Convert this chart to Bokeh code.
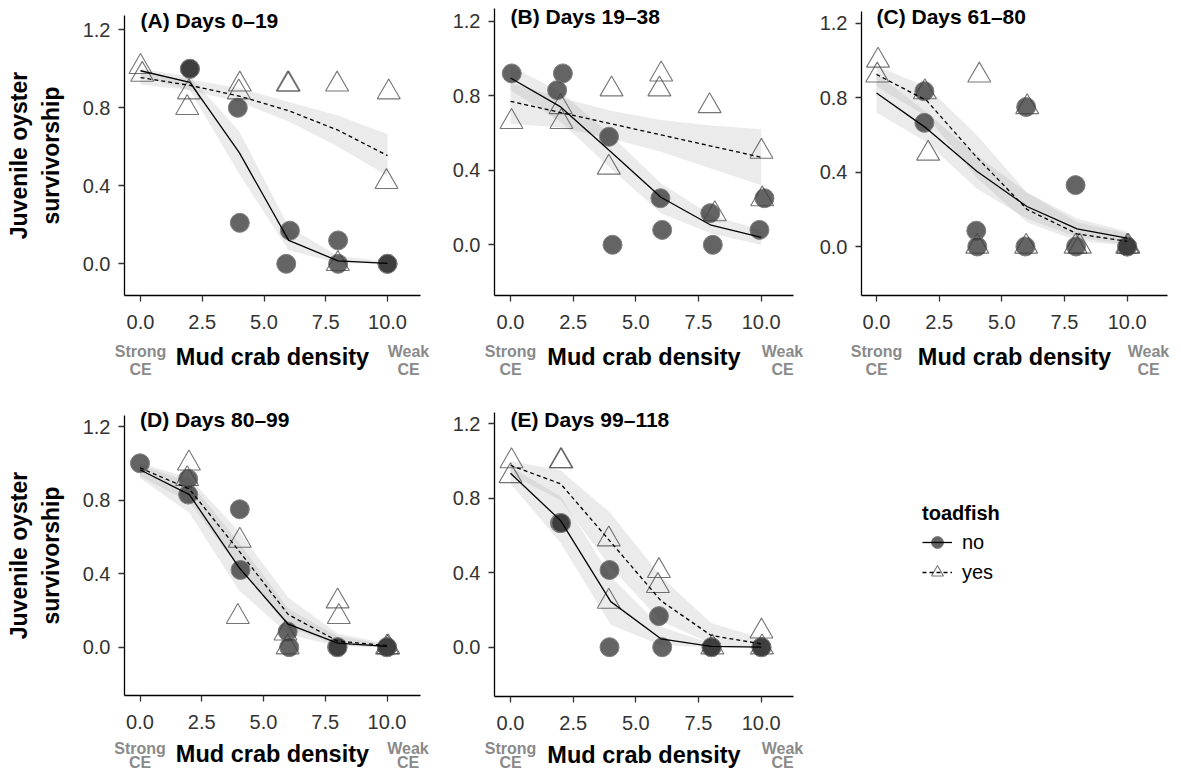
from bokeh.plotting import figure
from bokeh.layouts import column, row
from bokeh.models import (FixedTicker, NumeralTickFormatter, Label, Legend,
                          LegendItem, ColumnDataSource, Range1d)
from bokeh.core.properties import value
from bokeh.embed import file_html
from bokeh.resources import INLINE

# ---------------- data ----------------
DENSITY = [0, 2, 4, 6, 8, 10]
X_TICKS = [0.0, 2.5, 5.0, 7.5, 10.0]
Y_TICKS = [0.0, 0.4, 0.8, 1.2]
TITLES = ["(A) Days 0–19", "(B) Days 19–38", "(C) Days 61–80",
          "(D) Days 80–99", "(E) Days 99–118"]
X_LABEL = "Mud crab density"
Y_LABEL = "Juvenile oyster\nsurvivorship"
LEFT_NOTE = ["Strong", "CE"]
RIGHT_NOTE = ["Weak", "CE"]
LEGEND_TITLE = "toadfish"
GROUPS = ["no", "yes"]

# Panel A
A_no_x = [2.0, 2.0, 3.94, 4.02, 6.05, 5.9, 8.0, 8.0, 10.0, 10.0]
A_no_y = [1.0, 1.0, 0.80, 0.21, 0.17, 0.0, 0.12, 0.0, 0.0, 0.0]
A_yes_x = [0.0, 0.07, 1.96, 1.89, 4.02, 3.98, 5.96, 6.0, 7.96, 7.99, 10.05, 9.96]
A_yes_y = [1.01, 0.97, 0.88, 0.80, 0.92, 0.88, 0.92, 0.92, 0.92, 0.0, 0.88, 0.42]
A_no_fit = [0.99, 0.93, 0.57, 0.12, 0.015, 0.002]
A_no_lo = [0.96, 0.89, 0.46, 0.07, 0.003, 0.0]
A_no_hi = [1.0, 0.96, 0.68, 0.19, 0.04, 0.01]
A_yes_fit = [0.955, 0.915, 0.86, 0.785, 0.685, 0.555]
A_yes_lo = [0.92, 0.89, 0.83, 0.73, 0.60, 0.45]
A_yes_hi = [0.98, 0.945, 0.90, 0.83, 0.76, 0.665]

# Panel B
B_no_x = [0.05, 2.09, 1.86, 3.93, 4.07, 5.98, 6.05, 7.97, 8.07, 9.93, 10.13]
B_no_y = [0.92, 0.92, 0.83, 0.58, 0.0, 0.25, 0.08, 0.17, 0.0, 0.08, 0.25]
B_yes_x = [0.04, 2.0, 2.03, 4.03, 3.92, 6.01, 5.94, 7.94, 8.15, 10.01, 10.04]
B_yes_y = [0.66, 0.74, 0.66, 0.835, 0.415, 0.915, 0.835, 0.745, 0.165, 0.5, 0.245]
B_no_fit = [0.895, 0.74, 0.5, 0.255, 0.105, 0.04]
B_no_lo = [0.83, 0.66, 0.41, 0.17, 0.06, 0.0]
B_no_hi = [0.96, 0.82, 0.59, 0.33, 0.16, 0.08]
B_yes_fit = [0.77, 0.71, 0.65, 0.59, 0.53, 0.47]
B_yes_lo = [0.65, 0.63, 0.57, 0.5, 0.41, 0.32]
B_yes_hi = [0.87, 0.79, 0.72, 0.67, 0.64, 0.62]

# Panel C
C_no_x = [1.91, 1.91, 3.98, 4.02, 5.97, 5.94, 7.94, 7.96, 10.0, 10.0]
C_no_y = [0.835, 0.665, 0.085, 0.0, 0.75, 0.0, 0.33, 0.0, 0.0, 0.0]
C_yes_x = [0.06, 0.03, 1.93, 2.06, 4.1, 4.02, 6.01, 5.97, 7.94, 8.11, 10.0, 10.05]
C_yes_y = [1.0, 0.92, 0.83, 0.5, 0.92, 0.0, 0.75, 0.0, 0.0, 0.0, 0.0, 0.0]
C_no_fit = [0.825, 0.635, 0.405, 0.215, 0.095, 0.045]
C_no_lo = [0.72, 0.56, 0.31, 0.15, 0.05, 0.01]
C_no_hi = [0.93, 0.72, 0.49, 0.29, 0.15, 0.08]
C_yes_fit = [0.925, 0.785, 0.48, 0.2, 0.068, 0.028]
C_yes_lo = [0.86, 0.70, 0.37, 0.13, 0.03, 0.005]
C_yes_hi = [0.97, 0.86, 0.60, 0.29, 0.13, 0.07]

# Panel D
D_no_x = [0.0, 1.95, 1.95, 4.04, 4.07, 5.98, 6.04, 7.98, 8.0, 10.0, 10.0]
D_no_y = [1.0, 0.915, 0.83, 0.75, 0.42, 0.085, 0.0, 0.0, 0.0, 0.0, 0.0]
D_yes_x = [1.98, 1.91, 4.04, 3.96, 5.89, 5.98, 8.0, 8.05, 10.0, 10.05]
D_yes_y = [1.0, 0.915, 0.58, 0.165, 0.075, 0.0, 0.25, 0.165, 0.0, 0.0]
D_no_fit = [0.965, 0.83, 0.435, 0.125, 0.022, 0.004]
D_no_lo = [0.92, 0.73, 0.31, 0.07, 0.005, 0.0]
D_no_hi = [0.99, 0.9, 0.57, 0.21, 0.06, 0.012]
D_yes_fit = [0.975, 0.86, 0.525, 0.178, 0.033, 0.009]
D_yes_lo = [0.93, 0.79, 0.43, 0.11, 0.01, 0.0]
D_yes_hi = [1.0, 0.92, 0.63, 0.27, 0.075, 0.02]

# Panel E
E_no_x = [1.97, 2.02, 3.95, 3.95, 5.92, 6.05, 8.02, 8.02, 10.01, 10.01]
E_no_y = [0.667, 0.667, 0.415, 0.0, 0.167, 0.0, 0.0, 0.0, 0.0, 0.0]
E_yes_x = [0.04, 0.0, 2.0, 2.03, 3.92, 3.92, 5.92, 5.88, 8.05, 10.01, 10.03]
E_yes_y = [1.0, 0.92, 1.0, 1.0, 0.58, 0.245, 0.41, 0.33, 0.0, 0.085, 0.0]
E_no_fit = [0.935, 0.68, 0.245, 0.045, 0.004, 0.0]
E_no_lo = [0.88, 0.56, 0.12, 0.01, 0.0, 0.0]
E_no_hi = [0.97, 0.81, 0.38, 0.11, 0.02, 0.003]
E_yes_fit = [0.977, 0.878, 0.565, 0.25, 0.063, 0.018]
E_yes_lo = [0.93, 0.79, 0.43, 0.14, 0.02, 0.0]
E_yes_hi = [1.0, 0.95, 0.72, 0.38, 0.13, 0.05]

# ---------------- styling / geometry (page pixels) ----------------
FONT = "Liberation Sans"
NOTE_X = [0.0, 10.85]          # data-x centres of the "Strong CE" / "Weak CE" notes
# fig = (left, top, width, height); x0/y0 = pixel of data 0; ppu = pixels per unit;
# axis box = where the axis lines run; title/notes = text centre rows.
GEOM = [
    dict(fig=(0, 0, 440, 390), x0=140.0, ppux=24.7, y0=263.3, ppuy=195.0,
         ax_l=124, ax_r=420, ax_t=15, ax_b=295, title_py=20, notes_py=(351, 369),
         xlab_standoff=12, ylab=True),
    dict(fig=(440, 0, 370, 390), x0=510.0, ppux=25.07, y0=244.3, ppuy=186.3,
         ax_l=494, ax_r=793, ax_t=8, ax_b=295, title_py=16, notes_py=(351, 369),
         xlab_standoff=12, ylab=False),
    dict(fig=(810, 0, 370, 390), x0=876.0, ppux=25.07, y0=246.0, ppuy=186.0,
         ax_l=861, ax_r=1167, ax_t=11, ax_b=295, title_py=16, notes_py=(351, 369),
         xlab_standoff=12, ylab=False),
    dict(fig=(0, 390, 440, 383), x0=139.5, ppux=24.7, y0=646.7, ppuy=183.9,
         ax_l=124, ax_r=420, ax_t=415, ax_b=695, title_py=419, notes_py=(748, 762),
         xlab_standoff=9, ylab=True),
    dict(fig=(440, 390, 370, 383), x0=510.0, ppux=25.07, y0=646.7, ppuy=186.1,
         ax_l=494, ax_r=793, ax_t=412, ax_b=696, title_py=419, notes_py=(748, 762),
         xlab_standoff=9, ylab=False),
]
LEGEND_FIG = (810, 390, 370, 383)

CIRCLE_STYLE = dict(marker="circle", size=19, fill_color="#333333", fill_alpha=0.76,
                    line_color="#808080", line_width=1)
TRI_STYLE = dict(marker="triangle", size=23, fill_color=None, line_color="#404040",
                 line_alpha=0.72, line_width=1.1)
RIBBON_STYLE = dict(fill_color="#999999", fill_alpha=0.2)
SOLID_STYLE = dict(line_color="black", line_width=1.3)
DASH_STYLE = dict(line_color="black", line_width=1.3, line_dash="4 3")


def style_axis(ax):
    ax.axis_line_color = "black"
    ax.axis_line_width = 1.3
    ax.major_tick_line_color = "#333333"
    ax.major_tick_line_width = 1.3
    ax.major_tick_in = 0
    ax.major_tick_out = 6
    ax.minor_tick_line_color = None
    ax.major_label_text_font = FONT
    ax.major_label_text_font_size = "20px"
    ax.major_label_text_color = "#333333"
    ax.formatter = NumeralTickFormatter(format="0.0")


def make_panel(title, no_x, no_y, yes_x, yes_y, no_fit, no_lo, no_hi,
               yes_fit, yes_lo, yes_hi, g):
    fx, fy, w, h = g["fig"]
    px2x = lambda px: (px - g["x0"]) / g["ppux"]
    py2y = lambda py: (g["y0"] - py) / g["ppuy"]
    p = figure(width=w, height=h, min_border=0,
               x_range=Range1d(px2x(fx), px2x(fx + w)),
               y_range=Range1d(py2y(fy + h), py2y(fy)),
               output_backend="svg", toolbar_location=None, tools="")
    p.outline_line_color = None
    p.xgrid.visible = False
    p.ygrid.visible = False
    p.background_fill_color = "white"
    p.border_fill_color = "white"

    x_left, x_right = px2x(g["ax_l"]), px2x(g["ax_r"])
    y_bot, y_top = py2y(g["ax_b"]), py2y(g["ax_t"])

    style_axis(p.xaxis[0])
    style_axis(p.yaxis[0])
    p.xaxis.ticker = FixedTicker(ticks=X_TICKS)
    p.yaxis.ticker = FixedTicker(ticks=Y_TICKS)
    p.xaxis.fixed_location = y_bot
    p.yaxis.fixed_location = x_left
    p.xaxis.bounds = (x_left, x_right)
    p.yaxis.bounds = (y_bot, y_top)
    p.xaxis.major_label_standoff = 13
    p.yaxis.major_label_standoff = 8
    p.xaxis.axis_label = X_LABEL
    p.xaxis.axis_label_text_font = FONT
    p.xaxis.axis_label_text_font_style = "bold"
    p.xaxis.axis_label_text_font_size = "23.5px"
    p.xaxis.axis_label_text_color = "black"
    p.xaxis.axis_label_standoff = g["xlab_standoff"]
    if g["ylab"]:
        p.yaxis.axis_label = Y_LABEL
        p.yaxis.axis_label_text_font = FONT
        p.yaxis.axis_label_text_font_style = "bold"
        p.yaxis.axis_label_text_font_size = "23px"
        p.yaxis.axis_label_text_color = "black"
        p.yaxis.axis_label_standoff = 16

    p.varea(x=DENSITY, y1=no_lo, y2=no_hi, **RIBBON_STYLE)
    p.varea(x=DENSITY, y1=yes_lo, y2=yes_hi, **RIBBON_STYLE)
    p.scatter("x", "y", source=ColumnDataSource(dict(x=no_x, y=no_y)), **CIRCLE_STYLE)
    p.scatter("x", "y", source=ColumnDataSource(dict(x=yes_x, y=yes_y)), **TRI_STYLE)
    p.line(DENSITY, no_fit, **SOLID_STYLE)
    p.line(DENSITY, yes_fit, **DASH_STYLE)

    p.add_layout(Label(x=DENSITY[0], y=py2y(g["title_py"]), text=title,
                       text_align="left", text_baseline="middle",
                       text_font=FONT, text_font_style="bold",
                       text_font_size="21px", text_color="black"))
    for xpos, note in zip(NOTE_X, (LEFT_NOTE, RIGHT_NOTE)):
        for txt, py in zip(note, g["notes_py"]):
            p.add_layout(Label(x=xpos, y=py2y(py), text=txt,
                               text_align="center", text_baseline="middle",
                               text_font=FONT, text_font_style="bold",
                               text_font_size="16px", text_color="#8a8a8a"))
    return p


pA = make_panel(TITLES[0], A_no_x, A_no_y, A_yes_x, A_yes_y, A_no_fit, A_no_lo, A_no_hi,
                A_yes_fit, A_yes_lo, A_yes_hi, GEOM[0])
pB = make_panel(TITLES[1], B_no_x, B_no_y, B_yes_x, B_yes_y, B_no_fit, B_no_lo, B_no_hi,
                B_yes_fit, B_yes_lo, B_yes_hi, GEOM[1])
pC = make_panel(TITLES[2], C_no_x, C_no_y, C_yes_x, C_yes_y, C_no_fit, C_no_lo, C_no_hi,
                C_yes_fit, C_yes_lo, C_yes_hi, GEOM[2])
pD = make_panel(TITLES[3], D_no_x, D_no_y, D_yes_x, D_yes_y, D_no_fit, D_no_lo, D_no_hi,
                D_yes_fit, D_yes_lo, D_yes_hi, GEOM[3])
pE = make_panel(TITLES[4], E_no_x, E_no_y, E_yes_x, E_yes_y, E_no_fit, E_no_lo, E_no_hi,
                E_yes_fit, E_yes_lo, E_yes_hi, GEOM[4])

# ---------------- legend panel ----------------
lx, ly, lw, lh = LEGEND_FIG
leg = figure(width=lw, height=lh, x_range=Range1d(100, 101), y_range=Range1d(100, 101),
             x_axis_type=None, y_axis_type=None, min_border=0,
             output_backend="svg", toolbar_location=None, tools="")
leg.outline_line_color = None
leg.background_fill_color = "white"
leg.border_fill_color = "white"
r_c = leg.scatter("x", "y", source=ColumnDataSource(dict(x=E_no_x, y=E_no_y)), **CIRCLE_STYLE)
r_s = leg.line(DENSITY, E_no_fit, **SOLID_STYLE)
r_t = leg.scatter("x", "y", source=ColumnDataSource(dict(x=E_yes_x, y=E_yes_y)), **TRI_STYLE)
r_d = leg.line(DENSITY, E_yes_fit, **DASH_STYLE)
legend = Legend(items=[LegendItem(label=value(GROUPS[0]), renderers=[r_c, r_s]),
                       LegendItem(label=value(GROUPS[1]), renderers=[r_t, r_d])],
                title=LEGEND_TITLE, location="top_left",
                title_text_font=FONT, title_text_font_style="bold",
                title_text_font_size="20px", title_text_color="black",
                label_text_font=FONT, label_text_font_size="20px",
                label_text_color="black",
                glyph_width=30, glyph_height=30, label_standoff=10, spacing=0,
                padding=0, margin=112, title_standoff=2,
                border_line_color=None, background_fill_alpha=0)
leg.add_layout(legend)

layout = column(row(pA, pB, pC), row(pD, pE, leg))
open("out.html", "w").write(file_html(layout, INLINE))
